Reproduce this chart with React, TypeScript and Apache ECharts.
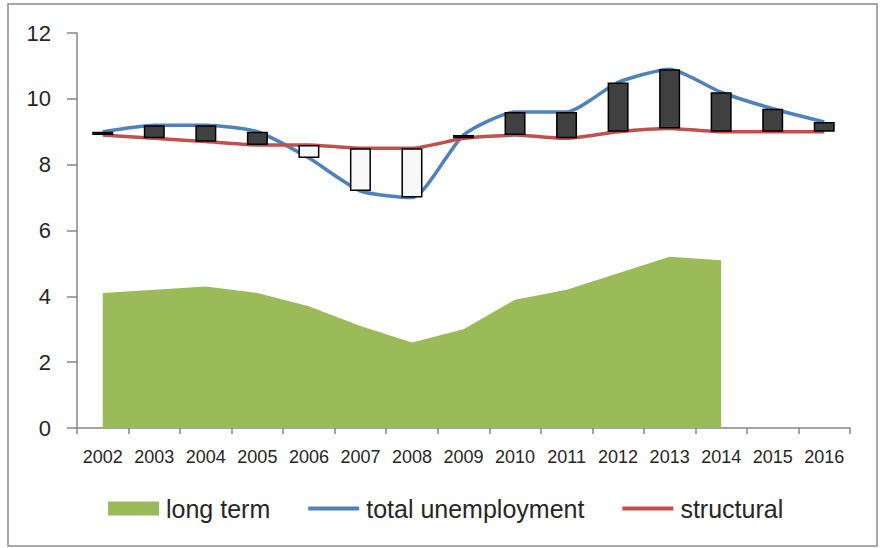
import React, { useEffect, useRef } from "react";
import * as echarts from "echarts";

const years = ["2002", "2003", "2004", "2005", "2006", "2007", "2008", "2009", "2010", "2011", "2012", "2013", "2014", "2015", "2016"];
const totalUnemployment = [9.0, 9.2, 9.2, 9.0, 8.2, 7.2, 7.0, 8.9, 9.6, 9.6, 10.5, 10.9, 10.2, 9.7, 9.3];
const structural = [8.9, 8.8, 8.7, 8.6, 8.6, 8.5, 8.5, 8.8, 8.9, 8.8, 9.0, 9.1, 9.0, 9.0, 9.0];
const longTerm: (number | null)[] = [4.1, 4.2, 4.3, 4.1, 3.7, 3.1, 2.6, 3.0, 3.9, 4.2, 4.7, 5.2, 5.1, null, null];
const yTicks = { min: 0, max: 12, interval: 2 };

const FONT = "Liberation Sans";
const LINE_ICON = "path://M0,0H51V4H0Z";

export default function App() {
  const ref = useRef<HTMLDivElement>(null);
  useEffect(() => {
    if (!ref.current) return;
    const chart = echarts.init(ref.current, undefined, { renderer: "svg" });
    const base = totalUnemployment.map((t, i) => Math.min(t, structural[i]));
    const gap = totalUnemployment.map((t, i) => {
      const up = t >= structural[i];
      return {
        value: +Math.abs(t - structural[i]).toFixed(2),
        itemStyle: { color: up ? "#404040" : "#F8F8F8", borderColor: "#000", borderWidth: 1.5 },
      };
    });
    chart.setOption({
      animation: false,
      backgroundColor: "#fff",
      textStyle: { fontFamily: FONT },
      grid: { left: 77, right: 30, top: 33, bottom: 120, containLabel: false },
      graphic: [
        {
          type: "rect",
          shape: { x: 8, y: 4, width: 869, height: 542 },
          style: { fill: "none", stroke: "#8c8c8c", lineWidth: 1.5 },
          silent: true,
        },
      ],
      legend: {
        left: 108,
        top: 496,
        padding: 0,
        itemWidth: 51,
        itemHeight: 14,
        itemGap: 38,
        textStyle: { fontFamily: FONT, fontSize: 25, color: "#262626", padding: [0, 0, 0, 2] },
        data: [
          { name: "long term", icon: "rect", itemStyle: { color: "#9BBB59" } },
          { name: "total unemployment", icon: LINE_ICON, itemStyle: { color: "#4F81BD" } },
          { name: "structural", icon: LINE_ICON, itemStyle: { color: "#C0504D" } },
        ],
      },
      xAxis: {
        type: "category",
        data: years,
        boundaryGap: true,
        axisLine: { lineStyle: { color: "#868686", width: 1.5 } },
        axisTick: { show: true, length: 6, interval: 0, lineStyle: { color: "#868686", width: 1.5 } },
        axisLabel: { interval: 0, fontSize: 18, color: "#262626", margin: 20, fontFamily: FONT },
      },
      yAxis: {
        type: "value",
        min: yTicks.min,
        max: yTicks.max,
        interval: yTicks.interval,
        splitLine: { show: false },
        axisLine: { show: true, lineStyle: { color: "#868686", width: 1.5 } },
        axisTick: { show: true, length: 10, lineStyle: { color: "#868686", width: 1.5 } },
        axisLabel: { fontSize: 22, color: "#262626", margin: 26, fontFamily: FONT },
      },
      series: [
        {
          name: "long term",
          type: "line",
          data: longTerm,
          color: "#9BBB59",
          symbol: "none",
          lineStyle: { width: 0 },
          areaStyle: { color: "#9BBB59", opacity: 1 },
          z: 1,
        },
        {
          name: "total unemployment",
          type: "line",
          data: totalUnemployment,
          color: "#4F81BD",
          symbol: "none",
          smooth: 0.2,
          lineStyle: { width: 3.5, color: "#4F81BD" },
          z: 2,
        },
        {
          name: "structural",
          type: "line",
          data: structural,
          color: "#C0504D",
          symbol: "none",
          smooth: 0.2,
          lineStyle: { width: 3.5, color: "#C0504D" },
          z: 2,
        },
        {
          name: "base",
          type: "bar",
          stack: "float",
          data: base,
          barWidth: 21,
          itemStyle: { color: "transparent" },
          silent: true,
          z: 3,
        },
        {
          name: "gap",
          type: "bar",
          stack: "float",
          data: gap,
          barWidth: 21,
          z: 3,
        },
      ],
    });
    return () => chart.dispose();
  }, []);
  return <div ref={ref} style={{ position: "fixed", left: 0, top: 0, width: 880, height: 548 }} />;
}
